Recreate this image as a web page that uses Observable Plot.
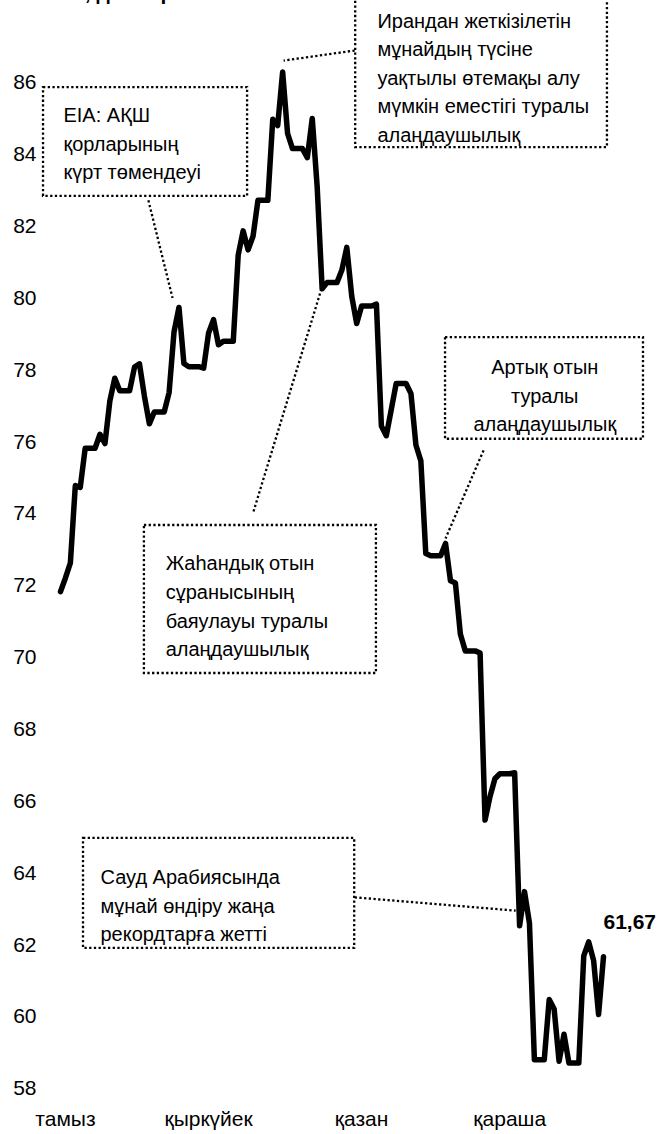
<!DOCTYPE html>
<html>
<head>
<meta charset="utf-8">
<script src="https://cdn.jsdelivr.net/npm/d3@7"></script>
<script src="https://cdn.jsdelivr.net/npm/@observablehq/plot@0.6"></script>
<style>
  html, body { margin: 0; padding: 0; background: white; overflow: hidden; }
  #wrap { position: relative; width: 658px; height: 1134px; }
  #title { position: absolute; left: 30px; top: -18px; font: bold 21px 'Liberation Sans Narrow', 'Arial Narrow', 'Liberation Sans', sans-serif; line-height: 22px; white-space: nowrap; }
</style>
</head>
<body>
<div id="wrap"><div id="title">Brent, доллар</div></div>
<script>
// Brent daily values (weekend days hold the previous Friday value), 19 Aug – 7 Dec
const aug = [71.83, 72.21, 72.63, 74.78, 74.73, 75.82, 75.82, 75.82, 76.21, 75.95, 77.14, 77.77, 77.42];
const sep = [77.42, 77.42, 78.08, 78.17, 77.27, 76.50, 76.83, 76.83, 76.83, 77.37, 79.06, 79.74, 78.18, 78.09, 78.09,
             78.09, 78.05, 79.03, 79.40, 78.70, 78.80, 78.80, 78.80, 81.20, 81.87, 81.34, 81.72, 82.72, 82.72, 82.72];
const oct = [84.98, 84.80, 86.29, 84.58, 84.16, 84.16, 84.16, 83.91, 85.00, 83.09, 80.26, 80.43, 80.43, 80.43, 80.78,
             81.41, 80.05, 79.29, 79.78, 79.78, 79.78, 79.83, 76.44, 76.17, 76.89, 77.62, 77.62, 77.62, 77.34, 75.91, 75.47];
const nov = [72.89, 72.83, 72.83, 72.83, 73.17, 72.13, 72.07, 70.65, 70.18, 70.18, 70.18, 70.12, 65.47, 66.12, 66.62,
             66.76, 66.76, 66.76, 66.79, 62.53, 63.48, 62.60, 58.80, 58.80, 58.80, 60.48, 60.21, 58.76, 59.51, 58.71];
const dec = [58.71, 58.71, 61.69, 62.08, 61.56, 60.06, 61.67];

const yTicks = [58, 60, 62, 64, 66, 68, 70, 72, 74, 76, 78, 80, 82, 84, 86];
const monthNames = ["тамыз", "қыркүйек", "қазан", "қараша"];
const monthTickDays = [1, 30, 61, 91];

const startMs = Date.UTC(2018, 7, 19);
const D = d => new Date(startMs + d * 864e5);

const prices = [...aug, ...sep, ...oct, ...nov, ...dec];
const data = prices.map((p, i) => ({date: D(i), price: p}));
const last = data[data.length - 1];
const monthDates = monthTickDays.map(D);

// annotations: box (day offsets / price), connector, text anchor
const notesLeft = [
  {text: "EIA: АҚШ\nқорларының\nкүрт төмендеуі", bx1: -3.44, bx2: 37.9, by1: 85.86, by2: 82.83, tx: 0.6, ty: 84.36,
   lx1: 17.8, ly1: 82.72, lx2: 22.7, ly2: 80.0},
  {text: "Ирандан жеткізілетін\nмұнайдың түсіне\nуақтылы өтемақы алу\nмүмкін еместігі туралы\nалаңдаушылық",
   bx1: 59.8, bx2: 110.8, by1: 88.8, by2: 84.19, tx: 64.2, ty: 86.19,
   lx1: 59.6, ly1: 86.89, lx2: 45.2, ly2: 86.61},
  {text: "Жаһандық отын\nсұранысының\nбаяулауы туралы\nалаңдаушылық", bx1: 17.0, bx2: 64.0, by1: 73.67, by2: 69.55, tx: 21.3, ty: 71.48,
   lx1: 39.1, ly1: 74.06, lx2: 53.0, ly2: 80.32},
  {text: "Сауд Арабиясында\nмұнай өндіру жаңа\nрекордтарға жетті", bx1: 4.66, bx2: 59.6, by1: 64.96, by2: 61.90, tx: 8.1, ty: 63.15,
   lx1: 59.6, ly1: 63.32, lx2: 92.2, ly2: 62.95}
];
const notesCenter = [
  {text: "Артық отын\nтуралы\nалаңдаушылық", bx1: 78.0, bx2: 118.1, by1: 78.90, by2: 76.07, tx: 98.1, ty: 77.34,
   lx1: 85.7, ly1: 75.76, lx2: 78.0, ly2: 73.31}
];
const notes = [...notesLeft, ...notesCenter];

const dotted = {stroke: "black", strokeWidth: 2.3, strokeDasharray: "2.3,2.4"};
const FONT = "'Liberation Sans Narrow', 'Arial Narrow', 'Liberation Sans', sans-serif";

const chart = Plot.plot({
  width: 658,
  height: 1134,
  marginTop: 82,
  marginBottom: 46,
  marginLeft: 60,
  marginRight: 55,
  style: {fontFamily: FONT, fontSize: "20px", color: "black", background: "transparent", overflow: "visible"},
  x: {type: "utc", domain: [D(0), D(110)]},
  y: {domain: [58, 86]},
  marks: [
    Plot.axisY({ticks: yTicks, tickSize: 0, tickPadding: 24, fontSize: 21, tickFormat: d => String(d)}),
    Plot.axisX({ticks: monthDates, tickSize: 0, tickPadding: 23, fontSize: 21,
                tickFormat: d => monthNames[monthDates.findIndex(m => +m === +d)]}),
    Plot.rect(notes, {x1: d => D(d.bx1), x2: d => D(d.bx2), y1: "by1", y2: "by2", fill: "none", ...dotted}),
    Plot.link(notes, {x1: d => D(d.lx1), y1: "ly1", x2: d => D(d.lx2), y2: "ly2", ...dotted}),
    Plot.text(notesLeft, {x: d => D(d.tx), y: "ty", text: "text", textAnchor: "start", lineAnchor: "middle", lineHeight: 1.43, fontSize: 20}),
    Plot.text(notesCenter, {x: d => D(d.tx), y: "ty", text: "text", textAnchor: "middle", lineAnchor: "middle", lineHeight: 1.43, fontSize: 20}),
    Plot.line(data, {x: "date", y: "price", stroke: "black", strokeWidth: 5.5, strokeLinejoin: "round", strokeLinecap: "round"}),
    Plot.text([last], {x: "date", y: "price", text: d => d.price.toFixed(2).replace(".", ","), textAnchor: "start", dy: -34,
                       fontWeight: "bold", fontSize: 21})
  ]
});
document.getElementById("wrap").prepend(chart);
</script>
</body>
</html>
